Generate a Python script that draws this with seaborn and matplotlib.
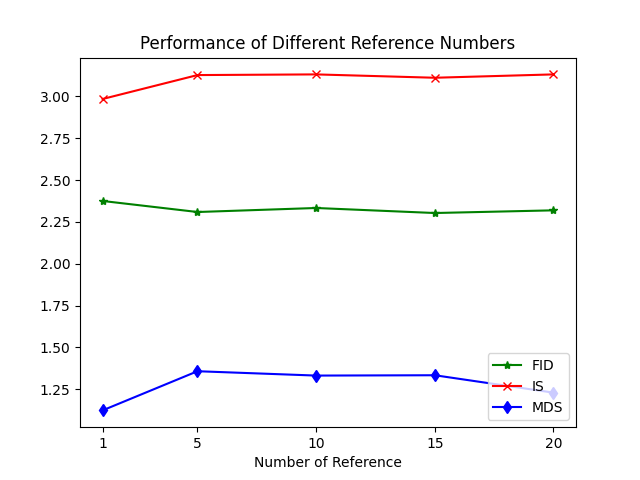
import seaborn as sns
import pandas as pd
import matplotlib.pyplot as plt

refs = [1, 5, 10, 15, 20]
fid = [2.375, 2.309, 2.333, 2.303, 2.319]
is_score = [2.984, 3.127, 3.131, 3.111, 3.131]
mds = [1.124, 1.358, 1.332, 1.334, 1.23]

df = pd.DataFrame({'ref': refs, 'FID': fid, 'IS': is_score, 'MDS': mds})

plt.style.use('default')
fig, ax = plt.subplots(figsize=(6.4, 4.8), dpi=100)

styles = [('FID', 'green', '*'), ('IS', 'red', 'x'), ('MDS', 'blue', 'd')]
for name, col, mk in styles:
    sns.lineplot(data=df, x='ref', y=name, color=col, marker=mk, markersize=6,
                 markeredgecolor=col, markeredgewidth=1, label=name, ax=ax)

ax.set_xticks(refs)
ax.set_xlabel('Number of Reference')
ax.set_ylabel('')
ax.set_title('Performance of Different Reference Numbers')
ax.legend(loc='lower right')

plt.savefig('out.png')
